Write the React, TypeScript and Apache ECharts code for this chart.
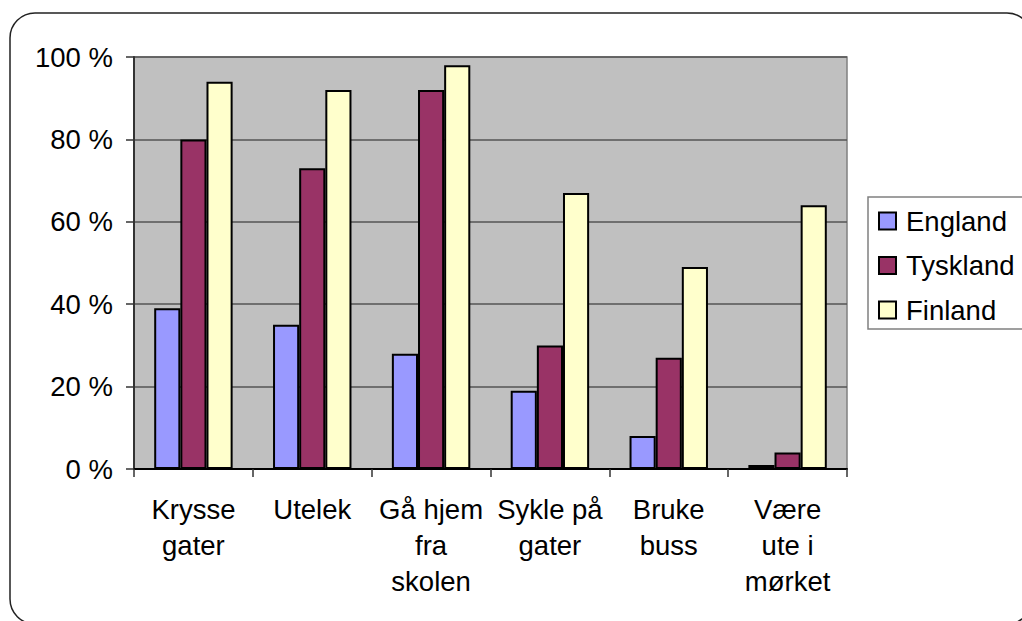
import React, { useEffect, useRef } from "react";
import * as echarts from "echarts";

const categories = ["Krysse\ngater", "Utelek", "Gå hjem\nfra\nskolen", "Sykle på\ngater", "Bruke\nbuss", "Være\nute i\nmørket"];
const england = [39, 35, 28, 19, 8, 1];
const tyskland = [80, 73, 92, 30, 27, 4];
const finland = [94, 92, 98, 67, 49, 64];
const seriesNames = ["England", "Tyskland", "Finland"];
const seriesColors = ["#9999ff", "#993366", "#ffffcc"];

const FONT = "'Liberation Sans', Arial, sans-serif";

export default function App() {
  const ref = useRef<HTMLDivElement>(null);
  useEffect(() => {
    if (!ref.current) return;
    const chart = echarts.init(ref.current, undefined, { renderer: "svg" });
    const data = [england, tyskland, finland];
    chart.setOption({
      animation: false,
      backgroundColor: "#ffffff",
      textStyle: { fontFamily: FONT },
      graphic: [
        {
          type: "rect",
          shape: { x: 10, y: 13, width: 1022, height: 611, r: 25 },
          style: { fill: "none", stroke: "#222", lineWidth: 1.5 },
          z: -1,
        },
        {
          type: "rect",
          shape: { x: 868, y: 197, width: 200, height: 132 },
          style: { fill: "#fff", stroke: "#808080", lineWidth: 1.5 },
          z: -1,
        },
      ],
      grid: {
        left: 134,
        top: 57,
        right: 175,
        bottom: 152,
        show: true,
        backgroundColor: "#c0c0c0",
        borderColor: "#808080",
        borderWidth: 1.5,
      },
      legend: {
        orient: "vertical",
        left: 878,
        top: 206,
        padding: 0,
        itemWidth: 17,
        itemHeight: 17,
        itemGap: 14.5,
        icon: "rect",
        textStyle: { fontSize: 27.5, color: "#000", fontFamily: FONT, lineHeight: 30, padding: [0, 0, 0, 5] },
        data: seriesNames,
      },
      xAxis: {
        type: "category",
        data: categories,
        axisLine: { lineStyle: { color: "#000", width: 2 } },
        axisTick: { show: true, length: 8, lineStyle: { color: "#333", width: 1.5 } },
        axisLabel: { fontSize: 27.5, color: "#000", lineHeight: 36, margin: 22, interval: 0, fontFamily: FONT },
      },
      yAxis: {
        type: "value",
        min: 0,
        max: 100,
        interval: 20,
        axisLine: { show: true, lineStyle: { color: "#333", width: 2 } },
        axisTick: { show: true, length: 8, lineStyle: { color: "#333", width: 1.5 } },
        axisLabel: { fontSize: 27.5, color: "#000", margin: 21, formatter: "{value} %", fontFamily: FONT },
        splitLine: { show: true, lineStyle: { color: "#555", width: 1.5 } },
      },
      series: seriesNames.map((name, i) => ({
        name,
        type: "bar",
        data: data[i],
        barGap: "0%",
        barCategoryGap: "34%",
        itemStyle: { color: seriesColors[i], borderColor: "#000", borderWidth: 2 },
      })),
    });
    return () => chart.dispose();
  }, []);
  return (
    <div
      ref={ref}
      style={{ position: "fixed", left: 0, top: 0, width: 1022, height: 621 }}
    />
  );
}
